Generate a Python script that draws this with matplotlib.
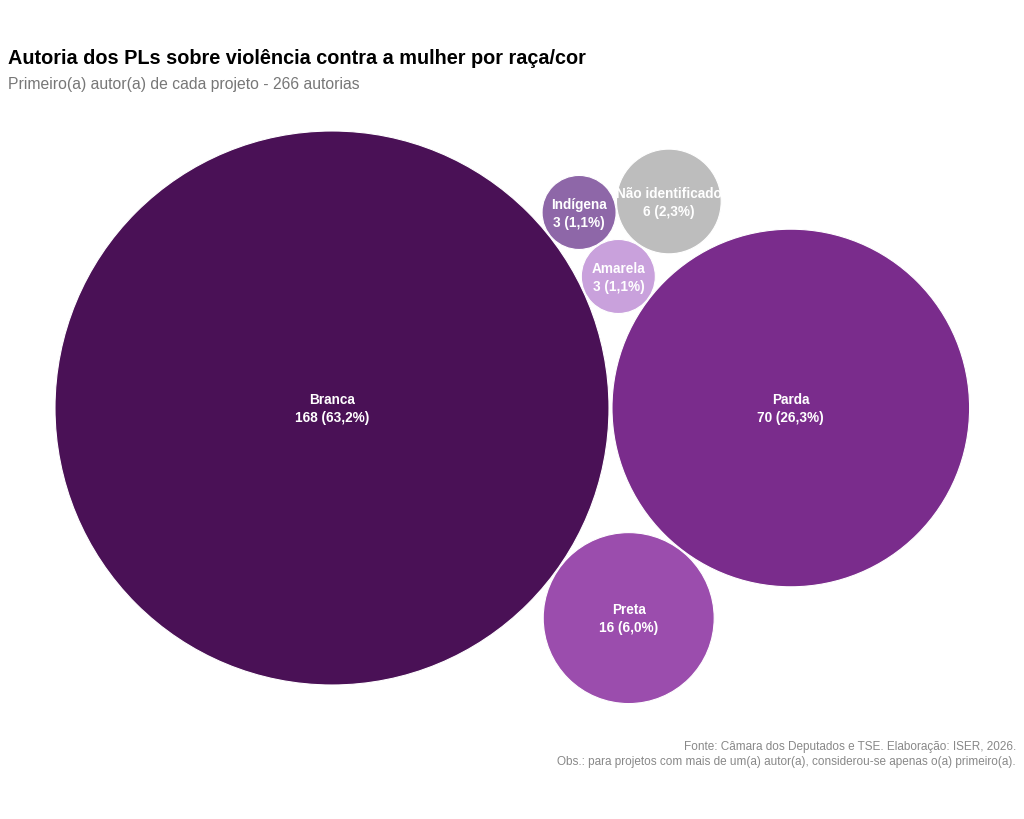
import numpy as np
import matplotlib
matplotlib.use("Agg")
import matplotlib.pyplot as plt
from matplotlib.patches import Circle

plt.rcParams['font.family'] = ['Liberation Sans', 'DejaVu Sans']

# data
categorias = ["Branca", "Parda", "Preta", "Amarela", "Indígena", "Não identificado"]
autorias = [168, 70, 16, 3, 3, 6]
cores = ["#4a1156", "#7a2c8c", "#9b4dad", "#c9a1dc", "#8e67a8", "#bdbdbd"]
total = sum(autorias)

# packing: each circle placed tangent to two earlier ones (index a, index b, side)
vizinhos = [None, None, (0, 1, -1), (0, 1, 1), (0, 3, 1), (4, 3, 1)]
pad = 0.05

raios = [np.sqrt(v) for v in autorias]
centros = []
for i, r in enumerate(raios):
    if i == 0:
        centros.append(np.array([0.0, 0.0]))
        continue
    if i == 1:
        centros.append(np.array([raios[0] + r + 0.14, 0.0]))
        continue
    a, b, lado = vizinhos[i]
    ca, cb = centros[a], centros[b]
    da = raios[a] + r + pad
    db = raios[b] + r + pad
    d = np.linalg.norm(cb - ca)
    u = (cb - ca) / d
    perp = np.array([-u[1], u[0]])
    x = (d**2 + da**2 - db**2) / (2 * d)
    h = np.sqrt(max(da**2 - x**2, 0))
    centros.append(ca + x * u + lado * h * perp)

fig = plt.figure(figsize=(10.24, 8.19), dpi=100)
ax = fig.add_axes([0, 0, 1, 1])
escala = 277 / raios[0]  # pixels per unit
ax.set_xlim(-332 / escala, (1024 - 332) / escala)
ax.set_ylim(-(819 - 408) / escala, 408 / escala)
ax.axis('off')

for nome, v, r, c, cor in zip(categorias, autorias, raios, centros, cores):
    ax.add_patch(Circle(c, r, facecolor=cor, edgecolor='white', linewidth=0.8))
    pct = f"{100 * v / total:.1f}".replace('.', ',')
    ax.text(c[0], c[1] - 0.06, f"{nome}\n{v} ({pct}%)", ha='center', va='center',
            color='white', fontsize=9.8, fontweight='bold', linespacing=1.35)

fig.text(8 / 1024, 1 - 58 / 819, "Autoria dos PLs sobre violência contra a mulher por raça/cor",
         fontsize=14.3, fontweight='bold', color='black', ha='left', va='center')
fig.text(8 / 1024, 1 - 84 / 819, "Primeiro(a) autor(a) de cada projeto - 266 autorias",
         fontsize=11.3, color='#777777', ha='left', va='center')
fig.text(1016 / 1024, 1 - 747 / 819, "Fonte: Câmara dos Deputados e TSE. Elaboração: ISER, 2026.",
         fontsize=8.5, color='#888888', ha='right', va='center')
fig.text(1016 / 1024, 1 - 762 / 819,
         "Obs.: para projetos com mais de um(a) autor(a), considerou-se apenas o(a) primeiro(a).",
         fontsize=8.5, color='#888888', ha='right', va='center')

fig.savefig("out.png", dpi=100, facecolor='white')
